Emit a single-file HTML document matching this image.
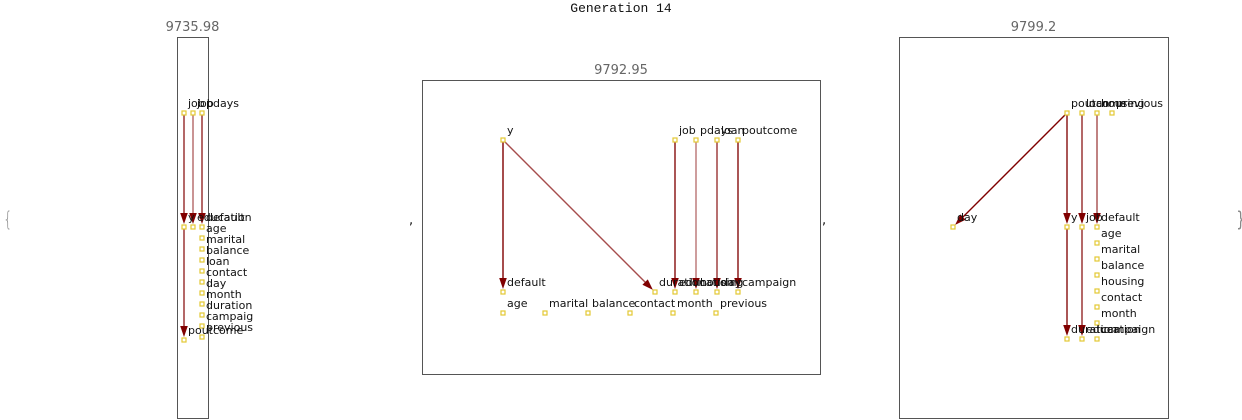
<!DOCTYPE html>
<html><head><meta charset="utf-8"><style>
html,body{margin:0;padding:0;background:#fff;}
svg{display:block;font-family:"DejaVu Sans","Liberation Sans",sans-serif;}
</style></head><body>
<svg id="c" width="1242" height="420" viewBox="0 0 1242 420" xmlns="http://www.w3.org/2000/svg">
<text x="621" y="12" text-anchor="middle" font-family="Liberation Mono, DejaVu Sans Mono, monospace" font-size="13" fill="#111">Generation 14</text>
<text x="2" y="226" font-size="20" fill="#888" font-weight="lighter" transform="translate(2,0) scale(0.7,1)">{</text>
<text x="1766" y="226" font-size="20" fill="#888" transform="scale(0.7,1)">}</text>
<text x="409" y="224" font-size="13" fill="#111">,</text>
<text x="822" y="224" font-size="13" fill="#111">,</text>
</svg>
<script>
const panelScores=["9735.98","9792.95","9799.2"];
const panelBoxes=[[177,37,31,381],[422,80,398,294],[899,37,269,381]];
// nodes: [panel, label, x, y]
const nodes=[
[0,"job",184,113],[0,"job",193,113],[0,"pdays",202,113],
[0,"y",184,227],[0,"education",193,227],[0,"default",202,227],
[0,"age",202,238],[0,"marital",202,249],[0,"balance",202,260],[0,"loan",202,271],[0,"contact",202,282],[0,"day",202,293],[0,"month",202,304],[0,"duration",202,315],[0,"campaig",202,326],[0,"previous",202,337],
[0,"poutcome",184,340],
[1,"y",503,140],[1,"job",675,140],[1,"pdays",696,140],[1,"loan",717,140],[1,"poutcome",738,140],
[1,"default",503,292],[1,"duration",655,292],[1,"education",675,292],[1,"housing",696,292],[1,"day",717,292],[1,"campaign",738,292],
[1,"age",503,313],[1,"marital",545,313],[1,"balance",588,313],[1,"contact",630,313],[1,"month",673,313],[1,"previous",716,313],
[2,"poutcome",1067,113],[2,"loan",1082,113],[2,"housing",1097,113],[2,"previous",1112,113],
[2,"day",953,227],[2,"y",1067,227],[2,"job",1082,227],[2,"default",1097,227],
[2,"age",1097,243],[2,"marital",1097,259],[2,"balance",1097,275],[2,"housing",1097,291],[2,"contact",1097,307],[2,"month",1097,323],
[2,"duration",1067,339],[2,"education",1082,339],[2,"campaign",1097,339]
];
// edges: [fromIndex, toIndex, opacity]
const edges=[[0,3,0.85],[3,16,0.85],[1,4,0.6],[2,5,0.85],
[17,22,1],[17,23,0.7],[18,24,0.95],[19,25,0.55],[20,26,0.8],[21,27,0.95],
[34,38,1],[34,39,0.95],[35,40,0.85],[36,41,0.7],[39,48,0.95],[40,49,0.85]];
const svg=document.getElementById('c');
const NS="http://www.w3.org/2000/svg";
function mk(t,a){const e=document.createElementNS(NS,t);for(const k in a)e.setAttribute(k,a[k]);svg.appendChild(e);return e;}
panelBoxes.forEach((b,i)=>{
 const r=mk('rect',{x:b[0]+0.5,y:b[1]+0.5,width:b[2],height:b[3],fill:'none',stroke:'#555','stroke-width':1});
 
 
 const t=mk('text',{x:b[0]+b[2]/2,y:b[1]-6,'text-anchor':'middle','font-size':13,fill:'#666'});
 t.textContent=panelScores[i];
 
 
});
edges.forEach(e=>{
 const a=nodes[e[0]],b=nodes[e[1]];
 const dx=b[2]-a[2],dy=b[3]-a[3],L=Math.hypot(dx,dy),ux=dx/L,uy=dy/L;
 const ex=b[2]-ux*3,ey=b[3]-uy*3;
 const l=mk('line',{x1:a[2]+ux*2,y1:a[3]+uy*2,x2:ex-ux*6,y2:ey-uy*6,stroke:'#800000','stroke-width':1.4,'stroke-opacity':e[2]});
 
 
 const hx=ex-ux*11,hy=ey-uy*11,px=-uy*3.8,py=ux*3.8;
 const p=mk('polygon',{points:`${ex},${ey} ${hx+px},${hy+py} ${hx-px},${hy-py}`,fill:'#800000'});
 
 
});
nodes.forEach(n=>{
 const r=mk('rect',{x:n[2]-2,y:n[3]-2,width:4,height:4,fill:'#fff',stroke:'#e3c832','stroke-width':1.2});
 
 
 const t=mk('text',{x:n[2]+4,y:n[3]-6,'font-size':11,fill:'#111'});
 t.textContent=n[1];
 
 
});
</script>
</body></html>
